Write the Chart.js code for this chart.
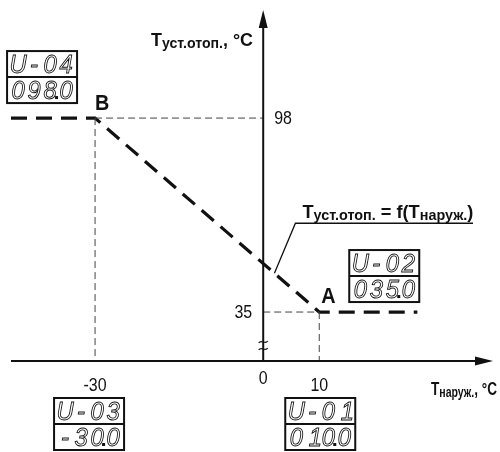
<!DOCTYPE html>
<html>
<head>
<meta charset="utf-8">
<script src="https://cdn.jsdelivr.net/npm/chart.js@4.4.1/dist/chart.umd.min.js"></script>
<style>
  html, body { margin: 0; padding: 0; background: #fff; }
</style>
</head>
<body>
<canvas id="curveChart" width="500" height="452"></canvas>
<script>
// heating curve: outdoor temp -> heating setpoint
const outdoorTemps = [-45, -30, 10, 27.5];
const setpointTemps = [98, 98, 35, 35];
const xTickValues = [-30, 0, 10];
const xTickLabels = ['-30', '0', '10'];
const yTickValues = [98, 35];
const pointNames = ['B', 'A'];
const pointX = [-30, 10];
const pointY = [98, 35];
const lcdParams = ['U-04', 'U-02', 'U-03', 'U-01'];
const lcdValues = ['098.0', '035.0', '-30.0', '010.0'];

const FONT = "'Liberation Sans', Arial, sans-serif";
const NARROW = 0.84;   // squeeze to look like a condensed face

// guide lines from the two break points to the axes
const guides = [
    [{ x: pointX[0], y: pointY[0] }, { x: pointX[0], y: 19.1 }],
    [{ x: pointX[0], y: pointY[0] }, { x: 0, y: pointY[0] }],
    [{ x: 0, y: pointY[1] }, { x: pointX[1], y: pointY[1] }],
    [{ x: pointX[1], y: pointY[1] }, { x: pointX[1], y: 19.1 }],
];

const curveData = outdoorTemps.map((t, i) => ({ x: t, y: setpointTemps[i] }));

function narrowText(ctx, s, x, y, align, stroke, k) {
    const sx = k || NARROW;
    const w = ctx.measureText(s).width * sx;
    let left = x;
    if (align === 'center') left = x - w / 2;
    else if (align === 'right') left = x - w;
    ctx.save();
    ctx.textAlign = 'left';
    ctx.translate(left, y);
    ctx.scale(sx, 1);
    if (stroke) ctx.strokeText(s, 0, 0);
    else ctx.fillText(s, 0, 0);
    ctx.restore();
    return w;
}

// text with subscripts, squeezed to a given width
function drawRich(ctx, parts, x, y, width, align) {
    let nat = 0;
    parts.forEach(p => {
        ctx.font = 'bold ' + p.size + 'px ' + FONT;
        nat += ctx.measureText(p.t).width;
    });
    const k = width / nat;
    let cx = align === 'right' ? x - width : x;
    ctx.textBaseline = 'alphabetic';
    parts.forEach(p => {
        ctx.font = 'bold ' + p.size + 'px ' + FONT;
        cx += narrowText(ctx, p.t, cx, y + (p.dy || 0), 'left', false, k);
    });
}

function lcdCells(str) {
    const cells = [];
    for (const ch of str) {
        if (ch === '.') cells[cells.length - 1] += '.';
        else cells.push(ch);
    }
    return cells;
}

function drawLcd(ctx, left, top, param, value) {
    const w = 70, h = 52;
    ctx.save();
    ctx.strokeStyle = '#111';
    ctx.fillStyle = '#111';
    ctx.lineWidth = 2;
    ctx.strokeRect(left, top, w, h);
    ctx.beginPath();
    ctx.moveTo(left, top + h / 2);
    ctx.lineTo(left + w, top + h / 2);
    ctx.stroke();
    ctx.font = 'italic 25px ' + FONT;
    ctx.textBaseline = 'alphabetic';
    ctx.lineWidth = 0.9;
    [param, value].forEach((s, row) => {
        const base = top + (row + 1) * h / 2 - 4;
        lcdCells(s).forEach((c, i) => {
            const cx = left + 11 + i * 16;
            const ch = c[0];
            narrowText(ctx, ch, ch === '1' ? cx + 3 : cx, base, 'center', true, 0.95);
            if (c.length > 1) ctx.fillRect(cx + 5, base - 3, 3, 3);
        });
    });
    ctx.restore();
}

const diagramPlugin = {
    id: 'diagram',
    afterDatasetsDraw(chart) {
        const ctx = chart.ctx;
        const xs = chart.scales.x, ys = chart.scales.y;
        const area = chart.chartArea;
        const x0 = xs.getPixelForValue(0);
        const yBase = area.bottom;
        ctx.save();
        ctx.strokeStyle = '#111';
        ctx.fillStyle = '#111';
        ctx.lineWidth = 2;

        // y axis with arrow
        ctx.beginPath();
        ctx.moveTo(x0, yBase);
        ctx.lineTo(x0, area.top + 14);
        ctx.stroke();
        ctx.beginPath();
        ctx.moveTo(x0, area.top);
        ctx.lineTo(x0 - 4.5, area.top + 18);
        ctx.lineTo(x0 + 4.5, area.top + 18);
        ctx.closePath();
        ctx.fill();

        // x axis with arrow
        ctx.beginPath();
        ctx.moveTo(area.left, yBase);
        ctx.lineTo(area.right - 14, yBase);
        ctx.stroke();
        ctx.beginPath();
        ctx.moveTo(area.right, yBase);
        ctx.lineTo(area.right - 18, yBase - 4.5);
        ctx.lineTo(area.right - 18, yBase + 4.5);
        ctx.closePath();
        ctx.fill();

        // axis break mark (two tildes)
        ctx.lineWidth = 1.3;
        [yBase - 19, yBase - 12].forEach(yy => {
            ctx.beginPath();
            ctx.moveTo(x0 - 4.5, yy + 1);
            ctx.bezierCurveTo(x0 - 2, yy - 3, x0 + 2, yy + 3, x0 + 4.5, yy - 1);
            ctx.stroke();
        });

        // tick labels
        ctx.font = '19px ' + FONT;
        ctx.textBaseline = 'alphabetic';
        xTickValues.forEach((v, i) => {
            narrowText(ctx, xTickLabels[i], xs.getPixelForValue(v), yBase + (v === 0 ? 23 : 30), 'center');
        });
        ctx.textBaseline = 'middle';
        narrowText(ctx, String(yTickValues[0]), x0 + 11, ys.getPixelForValue(yTickValues[0]) + 1, 'left');
        narrowText(ctx, String(yTickValues[1]), x0 - 11, ys.getPixelForValue(yTickValues[1]) + 1, 'right');

        // point names
        ctx.font = 'bold 22px ' + FONT;
        ctx.textBaseline = 'alphabetic';
        pointNames.forEach((n, i) => {
            const px = xs.getPixelForValue(pointX[i]);
            const py = ys.getPixelForValue(pointY[i]);
            narrowText(ctx, n, px + (i === 0 ? 0 : 2), py - (i === 0 ? 8 : 9), 'left', false, 0.9);
        });

        // axis titles
        drawRich(ctx, [
            { t: 'T', size: 19 },
            { t: 'уст.отоп.', size: 15, dy: 2 },
            { t: ', °C', size: 19 },
        ], 151, 46, 102);
        drawRich(ctx, [
            { t: 'T', size: 18 },
            { t: 'наруж.', size: 14, dy: 2 },
            { t: ', °C', size: 18 },
        ], 497, 395, 66, 'right');

        // curve annotation with leader
        const tx = 2, ty = pointY[0] + (pointY[1] - pointY[0]) * (tx - pointX[0]) / (pointX[1] - pointX[0]);
        const ex = xs.getPixelForValue(tx), ey = ys.getPixelForValue(ty);
        const lx = ex + 21, ly = ey - 50;
        ctx.lineWidth = 1.3;
        ctx.beginPath();
        ctx.moveTo(ex, ey);
        ctx.lineTo(lx, ly);
        ctx.lineTo(473, ly);
        ctx.stroke();
        drawRich(ctx, [
            { t: 'T', size: 19 },
            { t: 'уст.отоп.', size: 15, dy: 2 },
            { t: ' = f(T', size: 19 },
            { t: 'наруж.', size: 15, dy: 2 },
            { t: ')', size: 19 },
        ], lx + 7, ly - 5, 171);

        // parameter displays
        const bx = xs.getPixelForValue(pointX[0]), by = ys.getPixelForValue(pointY[0]);
        const ax = xs.getPixelForValue(pointX[1]), ay = ys.getPixelForValue(pointY[1]);
        drawLcd(ctx, bx - 88, by - 67, lcdParams[0], lcdValues[0]);
        drawLcd(ctx, ax + 30, ay - 62, lcdParams[1], lcdValues[1]);
        drawLcd(ctx, bx - 41, yBase + 37, lcdParams[2], lcdValues[2]);
        drawLcd(ctx, ax - 34, yBase + 37, lcdParams[3], lcdValues[3]);
        ctx.restore();
    }
};

const guideSets = guides.map(g => ({
    data: g,
    showLine: true,
    borderColor: '#444',
    borderWidth: 1,
    borderDash: [7, 4],
    pointRadius: 0,
    fill: false,
}));

new Chart(document.getElementById('curveChart'), {
    type: 'scatter',
    data: {
        datasets: [
            ...guideSets,
            {
                label: 'curve',
                data: curveData,
                showLine: true,
                borderColor: '#111',
                borderWidth: 3.2,
                borderDash: [16, 9],
                borderCapStyle: 'butt',
                pointRadius: 0,
                tension: 0,
                fill: false,
            },
        ],
    },
    options: {
        responsive: false,
        animation: false,
        maintainAspectRatio: false,
        layout: { padding: { left: 11, right: 7, top: 10, bottom: 91 } },
        plugins: { legend: { display: false }, tooltip: { enabled: false } },
        scales: {
            x: { type: 'linear', min: -45, max: 41, display: false },
            y: { type: 'linear', min: 19.1, max: 133.1, display: false },
        },
    },
    plugins: [diagramPlugin],
});
</script>
</body>
</html>
